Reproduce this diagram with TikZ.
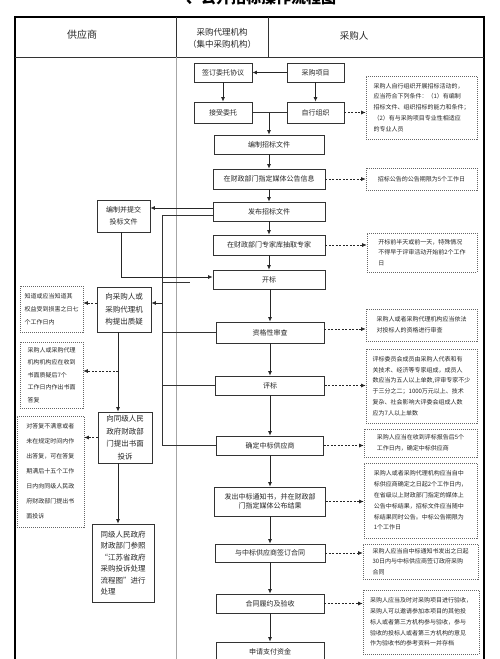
\documentclass[tikz,border=0pt]{standalone}
\usepackage{fontspec}
\setmainfont{Noto Sans CJK SC}
\usetikzlibrary{arrows.meta,calc}
\begin{document}
\begin{tikzpicture}[x=1pt,y=-1pt,
  box/.style={draw=black!80, line width=0.7pt, fill=white, inner sep=1pt, text=black!85,
    font=\fontsize{7pt}{8.5pt}\selectfont, align=center},
  lbox/.style={box, font=\fontsize{7.5pt}{12.5pt}\selectfont},
  note/.style={draw=black!60, line width=0.6pt, dash pattern=on 1pt off 1pt, align=left,
    inner sep=1pt, text=black!85, font=\fontsize{6pt}{10.8pt}\selectfont},
  arr/.style={draw=black!85, line width=0.8pt, -{Latex[length=4.5pt,width=4pt]}},
  darr/.style={draw=black!85, line width=0.7pt, dash pattern=on 2pt off 1.5pt, -{Latex[length=4.5pt,width=4pt]}},
  ln/.style={draw=black!80, line width=0.7pt},
  head/.style={text=black!85, align=center}]
\useasboundingbox (0,0) rectangle (500,659);

% title (partly cut at top)
\node[anchor=base, font=\fontsize{15pt}{17pt}\selectfont\bfseries, text=black] (title) at (261,3.5) {、公开招标操作流程图};

% frame and header
\draw[black, line width=1.2pt] (15,17) rectangle (484,690);
\draw[ln] (15,57) -- (484,57);
\draw[ln] (176,17) -- (176,57);
\draw[ln] (268,17) -- (268,57);
\draw[black!35, line width=0.6pt] (176,57) -- (176,690);
\node[head, font=\fontsize{10pt}{12pt}\selectfont] (h1) at (82,35) {供应商};
\node[head, font=\fontsize{8.5pt}{12pt}\selectfont] (h2) at (222,38) {采购代理机构\\（集中采购机构）};
\node[head, font=\fontsize{9.5pt}{12pt}\selectfont] (h3) at (354,36) {采购人};

% top boxes
\node[box, minimum width=58pt, minimum height=19pt] (sign) at (223,72.5) {签订委托协议};
\node[box, minimum width=57pt, minimum height=19pt] (proj) at (315.5,72.5) {采购项目};
\node[box, minimum width=58pt, minimum height=21pt] (accept) at (223,112.5) {接受委托};
\node[box, minimum width=57pt, minimum height=21pt] (self) at (315.5,112.5) {自行组织};
\node[note, minimum width=111pt, minimum height=63pt] (nA) at (421.5,107.5)
  {采购人自行组织开展招标活动的，\\应当符合下列条件：（1）有编制\\招标文件、组织招标的能力和条件；\\（2）有与采购项目专业性相适应\\的专业人员};

% main column
\node[box, minimum width=110pt, minimum height=19pt] (edit) at (269,144.5) {编制招标文件};
\node[box, minimum width=112pt, minimum height=20pt] (ann) at (269,179) {在财政部门指定媒体公告信息};
\node[box, minimum width=112pt, minimum height=19pt] (issue) at (269,211.5) {发布招标文件};
\node[box, minimum width=112pt, minimum height=20pt] (expert) at (269,245) {在财政部门专家库抽取专家};
\node[box, minimum width=112pt, minimum height=19pt] (open) at (269,279.5) {开标};
\node[box, minimum width=108pt, minimum height=21pt] (qual) at (270,332.5) {资格性审查};
\node[box, minimum width=109pt, minimum height=19pt] (eval) at (270,385.5) {评标};
\node[box, minimum width=107pt, minimum height=19pt] (award) at (270,445.5) {确定中标供应商};
\node[box, minimum width=111pt, minimum height=29pt] (notice) at (270,501.5) {发出中标通知书，并在财政部\\门指定媒体公布结果};
\node[box, minimum width=110pt, minimum height=18pt] (contract) at (270,553) {与中标供应商签订合同};
\node[box, minimum width=108pt, minimum height=19pt] (perform) at (270,603.5) {合同履约及验收};
\node[box, minimum width=108pt, minimum height=19pt] (pay) at (270,651.5) {申请支付资金};

% right notes
\node[note, minimum width=111pt, minimum height=22pt] (nB) at (421.5,179) {招标公告的公告期限为5个工作日};
\node[note, minimum width=110pt, minimum height=39pt] (nC) at (422,252.5)
  {开标前半天或前一天，特殊情况\\不得早于评审活动开始前2个工作\\日};
\node[note, minimum width=111pt, minimum height=32pt] (nD) at (421.5,325)
  {采购人或者采购代理机构应当依法\\对投标人的资格进行审查};
\node[note, minimum width=111pt, minimum height=74pt] (nE) at (421.5,386)
  {评标委员会成员由采购人代表和有\\关技术、经济等专家组成，成员人\\数应当为五人以上单数,评审专家不少\\于三分之二；1000万元以上、技术\\复杂、社会影响大评委会组成人数\\应为7人以上单数};
\node[note, minimum width=113pt, minimum height=28pt] (nF) at (420.5,443)
  {采购人应当在收到评标报告后5个\\工作日内，确定中标供应商};
\node[note, minimum width=113pt, minimum height=75pt] (nG) at (420.5,500.5)
  {采购人或者采购代理机构应当自中\\标供应商确定之日起2个工作日内，\\在省级以上财政部门指定的媒体上\\公告中标结果，招标文件应当随中\\标结果同时公告。中标公告期限为\\1个工作日};
\node[note, minimum width=115pt, minimum height=35pt] (nH) at (420.5,561.5)
  {采购人应当自中标通知书发出之日起\\30日内与中标供应商签订政府采购\\合同};
\node[note, minimum width=116pt, minimum height=64pt] (nI) at (421,622)
  {采购人应当及时对采购项目进行验收，\\采购人可以邀请参加本项目的其他投\\标人或者第三方机构参与验收，参与\\验收的投标人或者第三方机构的意见\\作为验收书的参考资料一并存档};

% left boxes
\node[box, font=\fontsize{7pt}{12pt}\selectfont, minimum width=53pt, minimum height=32pt] (bid) at (123.5,216) {编制并提交\\投标文件};
\node[lbox, minimum width=54pt, minimum height=45pt] (query) at (124,309.5) {向采购人或\\采购代理机\\构提出质疑};
\node[lbox, minimum width=54pt, minimum height=51pt] (complain) at (125,437.5) {向同级人民\\政府财政部\\门提出书面\\投诉};
\node[lbox, font=\fontsize{7.5pt}{11.5pt}\selectfont, align=left, minimum width=62pt, minimum height=78pt] (final) at (123,563)
  {同级人民政府\\财政部门参照\\“江苏省政府\\采购投诉处理\\流程图”进行\\处理};

% left notes
\node[note, font=\fontsize{6pt}{13pt}\selectfont, minimum width=63pt, minimum height=46pt] (L1) at (51.5,309)
  {知道或应当知道其\\权益受到损害之日七\\个工作日内};
\node[note, font=\fontsize{6pt}{12.5pt}\selectfont, minimum width=63pt, minimum height=66pt] (L2) at (51.5,375)
  {采购人或采购代理\\机构机构应在收到\\书面质疑后7个\\工作日内作出书面\\答复};
\node[note, font=\fontsize{6pt}{15pt}\selectfont, minimum width=67pt, minimum height=111pt] (L3) at (50.5,471.5)
  {对答复不满意或者\\未在规定时间内作\\出答复，可在答复\\期满后十五个工作\\日内向同级人民政\\府财政部门提出书\\面投诉};

% connectors: top
\draw[arr] (proj.west) -- (sign.east);
\draw[arr] (sign) -- (accept);
\draw[arr] (proj) -- (self);
\draw[darr] (self.east) -- (nA.west |- self.east);
\draw[ln] (accept.east) -- (self.west);
\coordinate (j) at (269,112.5);
\draw[arr] (j) -- (edit.north);

% main flow
\draw[arr] (edit) -- (ann);
\draw[arr] (ann) -- (issue);
\draw[arr] (issue) -- (expert);
\draw[arr] (expert) -- (open);
\draw[arr] (open.south -| qual.north) -- (qual.north);
\draw[arr] (qual) -- (eval);
\draw[arr] (eval) -- (award);
\draw[arr] (award) -- (notice);
\draw[arr] (notice) -- (contract);
\draw[arr] (contract) -- (perform);
\draw[arr] (perform) -- (pay);

% dashed to right notes
\draw[darr] (ann.east) -- (nB.west |- ann.east);
\draw[darr] (expert.east) -- (nC.west |- expert.east);
\coordinate (qd) at ($(qual.east)+(0,-3.5)$);
\draw[darr] (qd) -- (nD.west |- qd);
\draw[darr] (eval.east) -- (nE.west |- eval.east);
\draw[darr] (award.east) -- (nF.west |- award.east);
\draw[darr] (notice.east) -- (nG.west |- notice.east);
\draw[darr] (contract.east) -- (nH.west |- contract.east);
\draw[darr] (perform.east) -- (nI.west |- perform.east);

% supplier side
\coordinate (ib) at ($(issue.west)+(0,-3.5)$);
\draw[arr] (ib) -- (bid.east |- ib);
\coordinate (it) at ($(issue.west)+(0,3.5)$);
\coordinate (bx) at (162,0);
\draw[ln] (it) -- (bx |- it) -- (bx |- award.west) -- (award.west);
\draw[ln] (qual.west) -- (bx |- qual.west);
\draw[ln] (eval.west) -- (bx |- eval.west);
\coordinate (s1) at (162,282);
\coordinate (s2) at (190,282);
\draw[ln] (s1) -- (s2);
\coordinate (bo) at (121,277);
\draw[arr] (bid.south -| bo) -- (bo) -- (open.west |- bo);
\coordinate (qa) at ($(query.east)+(0,-6.5)$);
\draw[arr] (bx |- qa) -- (qa);
\coordinate (qw) at ($(query.west)+(0,-6.5)$);
\draw[darr] (qw) -- (L1.east |- qw);
\coordinate (vx) at (118,371);
\draw[arr] (query.south -| vx) -- (complain.north -| vx);
\draw[darr] (vx) -- (L2.east |- vx);
\draw[darr] (complain.west) -- (L3.east |- complain.west);
\draw[arr] (complain.south -| vx) -- (final.north -| vx);
\end{tikzpicture}
\end{document}
